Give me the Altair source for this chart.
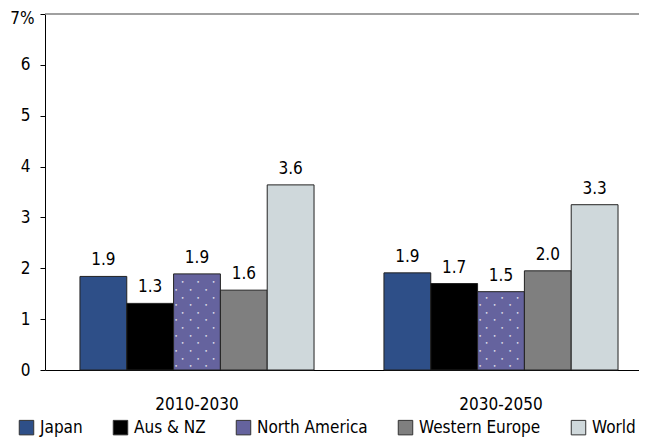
import altair as alt
import pandas as pd

periods = ["2010-2030", "2030-2050"]
regions = ["Japan", "Aus & NZ", "North America", "Western Europe", "World"]
colors = ["#2E4F88", "#000000", "#65639E", "#7F7F7F", "#CFD8DB"]
values_2010 = [1.84, 1.31, 1.89, 1.57, 3.64]
values_2030 = [1.91, 1.70, 1.54, 1.95, 3.25]
labels_2010 = ["1.9", "1.3", "1.9", "1.6", "3.6"]
labels_2030 = ["1.9", "1.7", "1.5", "2.0", "3.3"]
y_ticks = [0, 1, 2, 3, 4, 5, 6, 7]

FONT = "DejaVu Sans Condensed, DejaVu Sans, sans-serif"
FS = 17

rows = []
for p, vals, labs in [(periods[0], values_2010, labels_2010), (periods[1], values_2030, labels_2030)]:
    for r, v, l in zip(regions, vals, labs):
        rows.append({"period": p, "region": r, "value": v, "label": l})
df = pd.DataFrame(rows)

W, H = 594, 356

x_enc = alt.X("period:N", sort=periods, title=None,
              scale=alt.Scale(paddingInner=0.23, paddingOuter=0.092, align=0.625),
              axis=alt.Axis(labelAngle=0, ticks=False, tickSize=0, domainColor="#000000",
                            labelFontSize=FS, labelPadding=26, labelColor="#000000",
                            labelFont=FONT))
xoff = alt.XOffset("region:N", sort=regions, scale=alt.Scale(paddingInner=0, paddingOuter=0))
y_axis = alt.Axis(values=y_ticks, grid=False, tickSize=5, tickColor="#000000",
                  domainColor="#000000", labelFontSize=FS, labelColor="#000000", labelFont=FONT,
                  labelPadding={"condition": {"test": "datum.value == 7", "value": 6}, "value": 10},
                  labelOffset={"condition": {"test": "datum.value == 7", "value": 4}, "value": 0},
                  labelExpr="datum.value == 7 ? '7%' : datum.label")
y_scale = alt.Scale(domain=[0, 7], nice=False)

bars = alt.Chart(df).mark_bar(stroke="#222222", strokeWidth=1).encode(
    x=x_enc,
    xOffset=xoff,
    y=alt.Y("value:Q", scale=y_scale, axis=y_axis, title=None),
    color=alt.Color("region:N", sort=regions,
                    scale=alt.Scale(domain=regions, range=colors),
                    legend=alt.Legend(title=None, orient="none", direction="horizontal",
                                      columns=5, legendX=-27, legendY=405,
                                      symbolType="square", symbolSize=210,
                                      symbolStrokeColor="#333333", symbolStrokeWidth=1,
                                      symbolOpacity=1,
                                      labelFontSize=FS, labelFont=FONT, labelColor="#000000",
                                      labelOffset=5, columnPadding=28)),
)

texts = alt.Chart(df).mark_text(baseline="alphabetic", dy=-11, fontSize=FS, font=FONT,
                                color="#000000").encode(
    x=alt.X("period:N", sort=periods, title=None),
    xOffset=xoff,
    y=alt.Y("value:Q", scale=y_scale, axis=y_axis, title=None),
    text="label:N",
)

top_line = alt.Chart(pd.DataFrame({"v": [7]})).mark_rule(color="#808080", strokeWidth=1.5).encode(
    y=alt.Y("v:Q", scale=y_scale, axis=y_axis, title=None)
)

# dotted texture on the North America bars
na_index = regions.index("North America")
dot_layers = []
for p, v in [(periods[0], values_2010[na_index]), (periods[1], values_2030[na_index])]:
    for parity, offsets in [(0, [-21, -6.5, 9]), (1, [-14.5, 1, 16.5])]:
        for dx in offsets:
            dot_layers.append(
                alt.Chart(alt.sequence(0.075, 2.0, 0.15, as_="y"))
                .transform_calculate(k="round((datum.y - 0.075) / 0.15)", period=f"'{p}'")
                .transform_filter(f"datum.y < {v} - 0.04 && datum.k % 2 == {parity}")
                .mark_text(text="•", dx=dx, fontSize=6, color="#E4E4F0", baseline="middle")
                .encode(
                    x=alt.X("period:N", sort=periods, title=None),
                    y=alt.Y("y:Q", scale=y_scale, axis=y_axis, title=None),
                )
            )

chart = alt.layer(bars, *dot_layers, texts, top_line).properties(
    width=W, height=H,
    autosize=alt.AutoSizeParams(type="none"),
    padding={"left": 37, "top": 6, "right": 0, "bottom": 67},
).configure_view(stroke=None).configure_text(font=FONT)

chart.save("out.html", embed_options={"renderer": "svg", "actions": False})
